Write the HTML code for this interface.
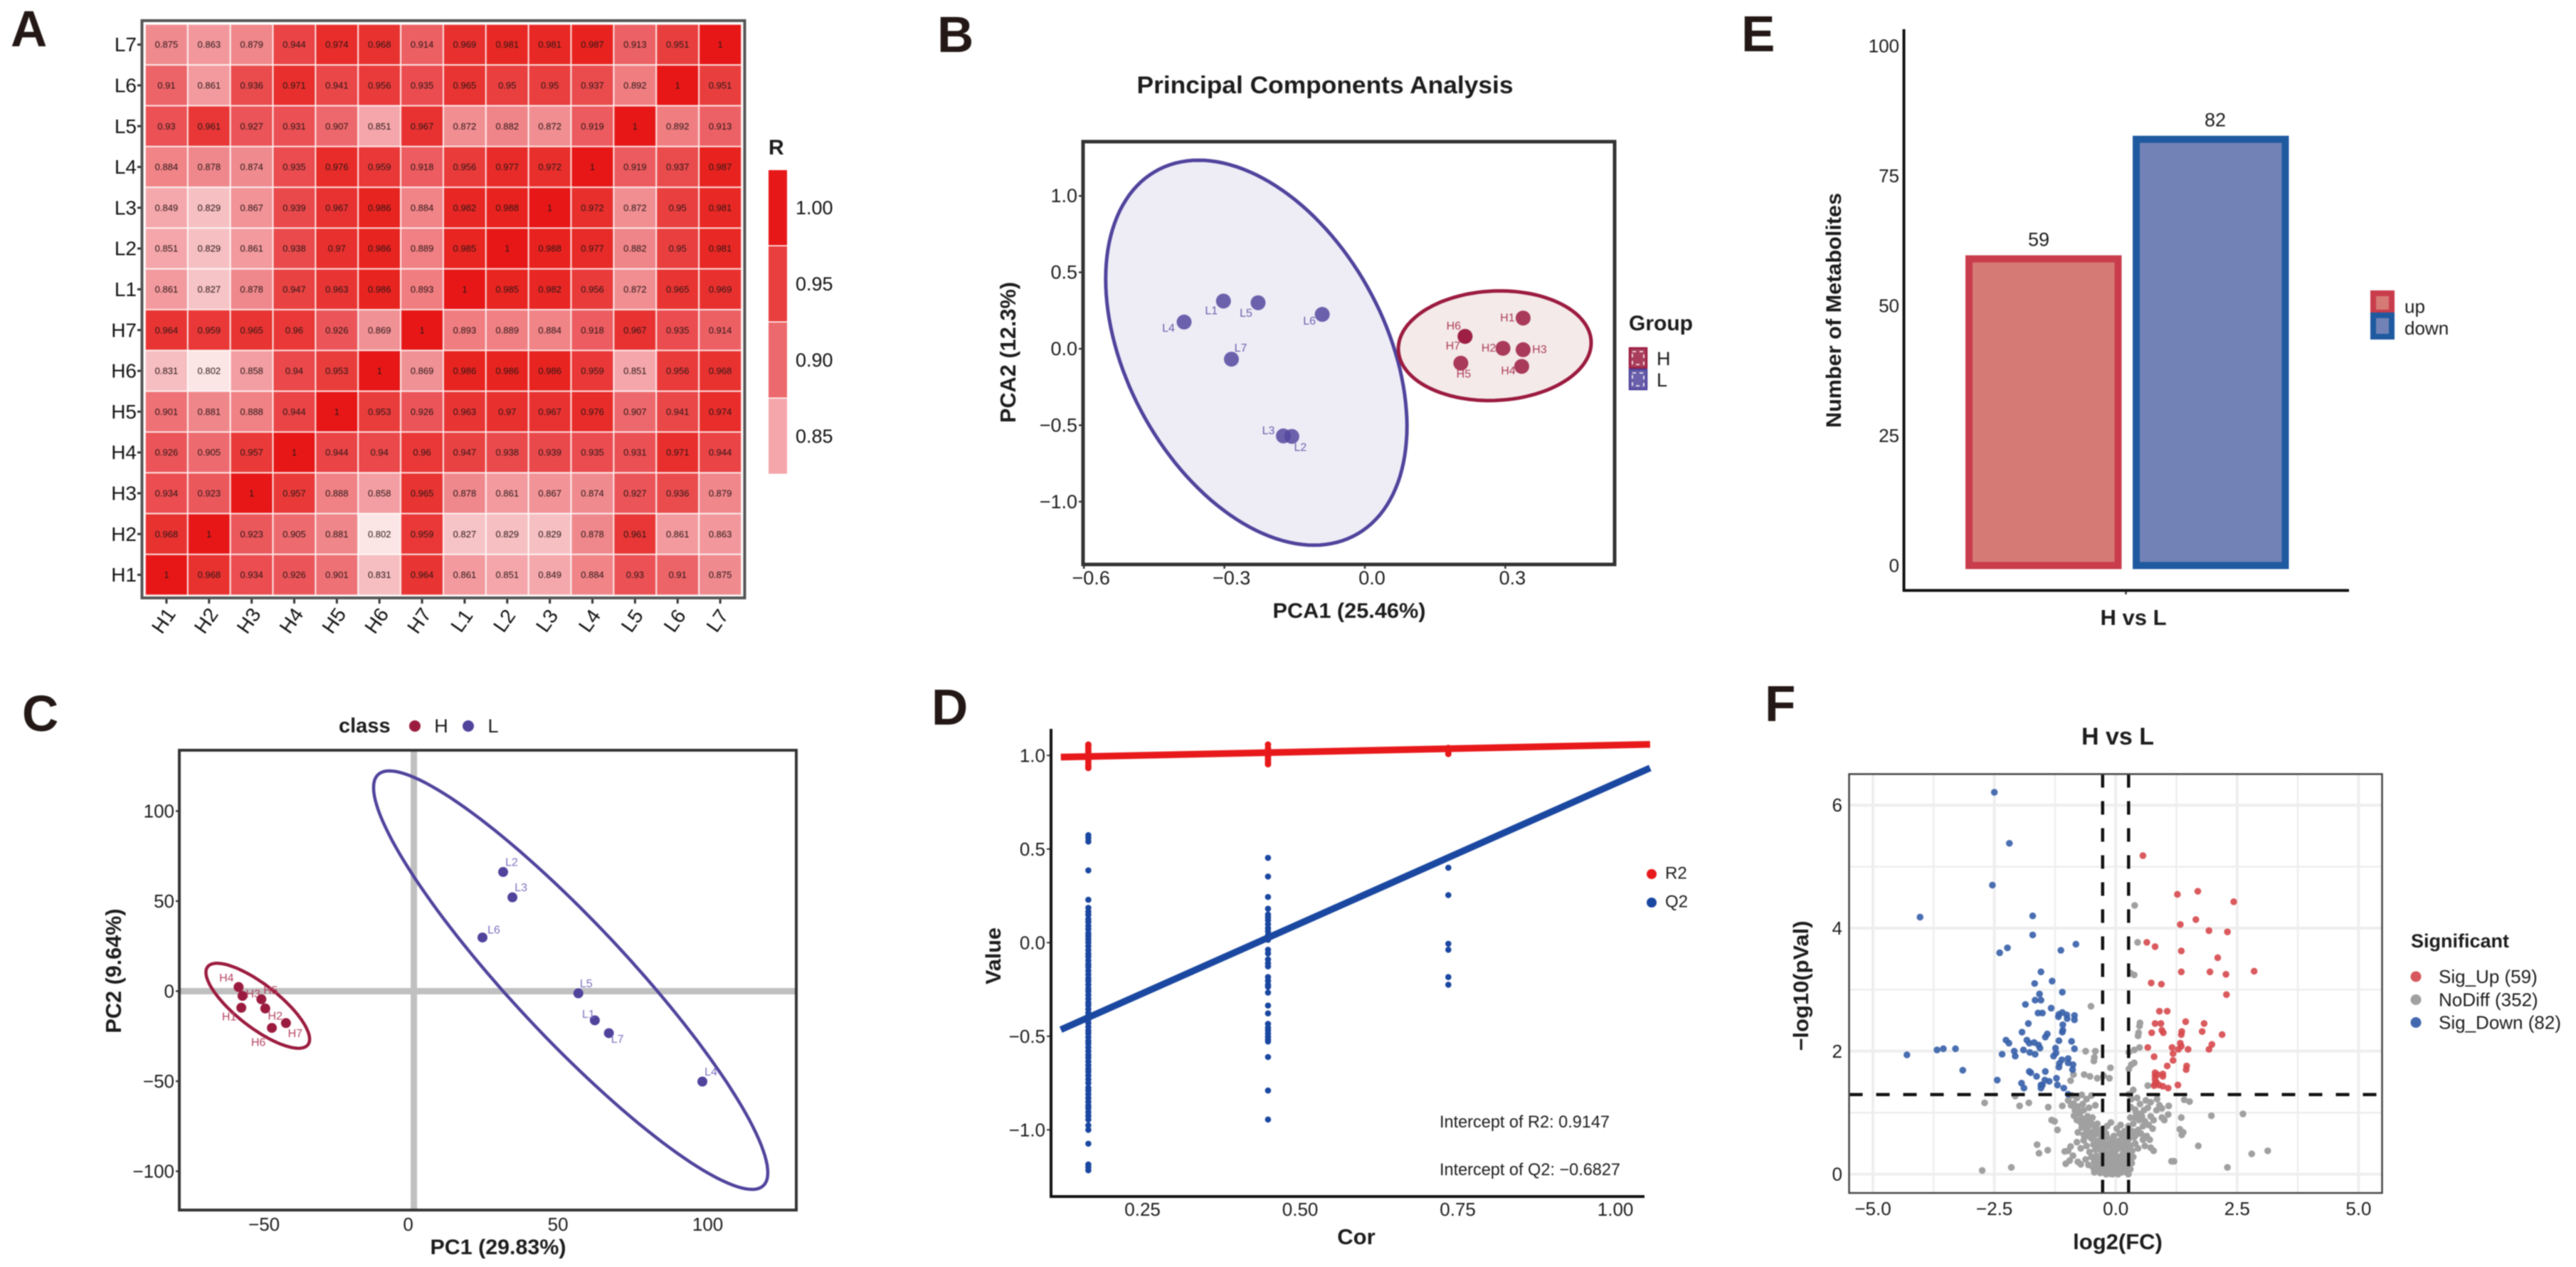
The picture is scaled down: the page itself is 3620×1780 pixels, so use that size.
<!DOCTYPE html>
<html lang="en">
<head>
<meta charset="utf-8">
<title>Metabolomics multi-panel figure</title>
<style>
html,body{margin:0;padding:0;background:#fff;}
#figure{display:block;width:3620px;height:1780px;filter:blur(0.9px);}
#figure text{font-family:"Liberation Sans",sans-serif;fill:#1c1c1c;}
.letter{font-size:71px;font-weight:700;fill:#231815 !important;}
.title{font-weight:700;}
</style>
</head>
<body>
<svg id="figure" xmlns="http://www.w3.org/2000/svg" width="3620" height="1780" viewBox="0 0 3620 1780">
  <rect x="0" y="0" width="3620" height="1780" fill="#fff"/>

  <text class="letter" x="15" y="65">A</text>
  <text class="letter" x="1317" y="73">B</text>
  <text class="letter" x="31" y="1027">C</text>
  <text class="letter" x="1309" y="1018">D</text>
  <text class="letter" x="2447" y="72">E</text>
  <text class="letter" x="2480" y="1013">F</text>

  <g id="panel-a"></g>
  <g id="panel-b"></g>
  <g id="panel-c"></g>
  <g id="panel-d"></g>
  <g id="panel-e"></g>
  <g id="panel-f"></g>

  <text class="title" x="1080" y="217" font-size="30">R</text>

  <text class="title" x="1862" y="131" font-size="34" text-anchor="middle" textLength="529" lengthAdjust="spacingAndGlyphs">Principal Components Analysis</text>
  <text class="title" x="1896" y="868" font-size="30" text-anchor="middle" textLength="215" lengthAdjust="spacingAndGlyphs">PCA1 (25.46%)</text>
  <text class="title" transform="translate(1427,495) rotate(-90)" font-size="31" text-anchor="middle" textLength="198" lengthAdjust="spacingAndGlyphs">PCA2 (12.3%)</text>
  <text class="title" x="2289" y="464" font-size="30">Group</text>

  <text class="title" x="700" y="1762" font-size="30" text-anchor="middle" textLength="191" lengthAdjust="spacingAndGlyphs">PC1 (29.83%)</text>
  <text class="title" transform="translate(170,1364) rotate(-90)" font-size="31" text-anchor="middle" textLength="175" lengthAdjust="spacingAndGlyphs">PC2 (9.64%)</text>
  <text class="title" x="476" y="1029" font-size="29">class</text>

  <text class="title" x="1906" y="1748" font-size="31" text-anchor="middle">Cor</text>
  <text class="title" transform="translate(1406,1343) rotate(-90)" font-size="30" text-anchor="middle" textLength="80" lengthAdjust="spacingAndGlyphs">Value</text>
  <text x="2023" y="1584" font-size="24" textLength="239" lengthAdjust="spacingAndGlyphs">Intercept of R2: 0.9147</text>
  <text x="2023" y="1651" font-size="24" textLength="254" lengthAdjust="spacingAndGlyphs">Intercept of Q2: −0.6827</text>

  <text class="title" transform="translate(2587,436) rotate(-90)" font-size="30" text-anchor="middle" textLength="330" lengthAdjust="spacingAndGlyphs">Number of Metabolites</text>
  <text class="title" x="2998" y="878" font-size="31" text-anchor="middle">H vs L</text>

  <text class="title" x="2976" y="1046" font-size="34" text-anchor="middle">H vs L</text>
  <text class="title" x="2976" y="1755" font-size="31" text-anchor="middle">log2(FC)</text>
  <text class="title" transform="translate(2541,1385) rotate(-90)" font-size="30" text-anchor="middle" textLength="183" lengthAdjust="spacingAndGlyphs">−log10(pVal)</text>
  <text class="title" x="3388" y="1331" font-size="27">Significant</text>
</svg>

<script>
/* ---------- Panel A data ---------- */
const heatRowLabels = ['L7','L6','L5','L4','L3','L2','L1','H7','H6','H5','H4','H3','H2','H1'];
const heatColLabels = ['H1','H2','H3','H4','H5','H6','H7','L1','L2','L3','L4','L5','L6','L7'];
const heatValues = [
 [0.875,0.863,0.879,0.944,0.974,0.968,0.914,0.969,0.981,0.981,0.987,0.913,0.951,1],
 [0.91,0.861,0.936,0.971,0.941,0.956,0.935,0.965,0.95,0.95,0.937,0.892,1,0.951],
 [0.93,0.961,0.927,0.931,0.907,0.851,0.967,0.872,0.882,0.872,0.919,1,0.892,0.913],
 [0.884,0.878,0.874,0.935,0.976,0.959,0.918,0.956,0.977,0.972,1,0.919,0.937,0.987],
 [0.849,0.829,0.867,0.939,0.967,0.986,0.884,0.982,0.988,1,0.972,0.872,0.95,0.981],
 [0.851,0.829,0.861,0.938,0.97,0.986,0.889,0.985,1,0.988,0.977,0.882,0.95,0.981],
 [0.861,0.827,0.878,0.947,0.963,0.986,0.893,1,0.985,0.982,0.956,0.872,0.965,0.969],
 [0.964,0.959,0.965,0.96,0.926,0.869,1,0.893,0.889,0.884,0.918,0.967,0.935,0.914],
 [0.831,0.802,0.858,0.94,0.953,1,0.869,0.986,0.986,0.986,0.959,0.851,0.956,0.968],
 [0.901,0.881,0.888,0.944,1,0.953,0.926,0.963,0.97,0.967,0.976,0.907,0.941,0.974],
 [0.926,0.905,0.957,1,0.944,0.94,0.96,0.947,0.938,0.939,0.935,0.931,0.971,0.944],
 [0.934,0.923,1,0.957,0.888,0.858,0.965,0.878,0.861,0.867,0.874,0.927,0.936,0.879],
 [0.968,1,0.923,0.905,0.881,0.802,0.959,0.827,0.829,0.829,0.878,0.961,0.861,0.863],
 [1,0.968,0.934,0.926,0.901,0.831,0.964,0.861,0.851,0.849,0.884,0.93,0.91,0.875]
];
const heatLegendTicks = ['1.00','0.95','0.90','0.85'];

/* ---------- Panel B data ---------- */
const pcaNames = ['H1','H2','H3','H4','H5','H6','H7','L1','L2','L3','L4','L5','L6','L7'];
const pcaX = [0.338,0.295,0.338,0.335,0.205,0.214,0.214,-0.302,-0.156,-0.174,-0.386,-0.228,-0.091,-0.285];
const pcaY = [0.201,0.003,-0.006,-0.115,-0.094,0.081,0.081,0.312,-0.573,-0.570,0.175,0.301,0.225,-0.068];
const pcaXTicks = [-0.6,-0.3,0.0,0.3];
const pcaYTicks = [1.0,0.5,0.0,-0.5,-1.0];
const pcaEllipseL = [-0.2318,-0.0256,0.3217,1.259,-0.3826];
const pcaEllipseH = [0.2774,0.02,0.2059,0.3585,0.055];

/* ---------- Panel C data ---------- */
const plsNames = ['H1','H2','H3','H4','H5','H6','H7','L1','L2','L3','L4','L5','L6','L7'];
const plsX = [-57.6,-49.6,-57.2,-58.5,-50.9,-47.4,-42.7,60.4,29.8,32.9,96.3,54.9,22.9,65.1];
const plsY = [-9.2,-9.6,-2.6,2.3,-4.5,-20.4,-17.7,-16.2,66.2,52.1,-50.2,-1.2,29.8,-23.3];
const plsXTicks = [-50,0,50,100];
const plsYTicks = [100,50,0,-50,-100];
const plsEllipseL = [52.35,6.13,65.8,116.2,-0.92];
const plsEllipseH = [-52.1,-8.1,17.3,23.6,-0.786];

/* ---------- Panel D data ---------- */
const permCor = [0.164,0.449,0.735];
const permR2Col1 = [0.933,0.945,0.96,0.975,0.99,1.005,1.02,1.035,1.05,1.058];
const permR2Col2 = [0.953,0.965,0.98,0.995,1.01,1.025,1.04,1.058];
const permR2Col3 = [1.008,1.02,1.03,1.04];
const permQ2Col1 = [0.574,0.558,0.54,0.386,0.229,0.186,0.165,0.148,0.125,0.11,0.09,0.072,0.05,0.035,0.018,0.0,-0.02,-0.04,-0.06,-0.075,-0.095,-0.115,-0.13,-0.15,-0.17,-0.19,-0.205,-0.225,-0.245,-0.26,-0.28,-0.3,-0.32,-0.335,-0.355,-0.375,-0.39,-0.41,-0.43,-0.45,-0.47,-0.485,-0.505,-0.525,-0.54,-0.56,-0.58,-0.6,-0.615,-0.635,-0.655,-0.675,-0.69,-0.71,-0.73,-0.75,-0.775,-0.79,-0.81,-0.83,-0.85,-0.87,-0.885,-0.905,-0.925,-0.945,-0.976,-1.0,-1.074,-1.185,-1.2,-1.216];
const permQ2Col2 = [0.453,0.353,0.244,0.181,0.15,0.135,0.119,0.098,0.077,0.06,0.04,0.015,-0.038,-0.058,-0.09,-0.11,-0.127,-0.184,-0.204,-0.225,-0.236,-0.267,-0.336,-0.378,-0.434,-0.455,-0.469,-0.486,-0.503,-0.517,-0.528,-0.611,-0.79,-0.945];
const permQ2Col3 = [0.40,0.254,-0.006,-0.038,-0.184,-0.225];
const permLineCor = [0.1204,1.055];
const permR2Line = [0.991,1.0592];
const permQ2Line = [-0.465,0.933];
const permXTicks = [0.25,0.50,0.75,1.00];
const permYTicks = [1.0,0.5,0.0,-0.5,-1.0];

/* ---------- Panel E data ---------- */
const barCategories = ['up','down'];
const barValues = [59,82];
const barTicks = [0,25,50,75,100];

/* ---------- Panel F data ---------- */
const volcanoXTicks = [-5.0,-2.5,0.0,2.5,5.0];
const volcanoYTicks = [0,2,4,6];
const volcanoLegend = ['Sig_Up (59)','NoDiff (352)','Sig_Down (82)'];
const volcanoCutoffs = [-0.27,0.265,1.295];
const sigDownPoints = [[-2.50,6.21],[-2.19,5.38],[-2.54,4.70],[-4.03,4.18],[-1.71,4.20],[-1.71,3.89],[-0.82,3.74],[-1.13,3.64],[-2.23,3.68],[-2.39,3.60],[-1.54,3.29],[-1.31,3.14],[-1.67,3.10],[-1.10,2.96],[-1.57,2.93],[-1.66,2.83],[-1.54,2.83],[-1.86,2.76],[-1.33,2.70],[-1.60,2.62],[-1.51,2.62],[-1.18,2.56],[-1.10,2.63],[-1.17,2.60],[-1.01,2.59],[-1.00,2.53],[-0.85,2.58],[-0.85,2.51],[-1.09,2.43],[-1.80,2.45],[-1.09,2.34],[-1.10,2.31],[-1.93,2.31],[-1.41,2.28],[-1.45,2.23],[-2.26,2.18],[-2.20,2.13],[-1.83,2.18],[-1.78,2.13],[-1.68,2.14],[-1.59,2.10],[-1.56,2.05],[-1.17,2.17],[-0.91,2.16],[-0.85,2.04],[-1.24,2.05],[-1.23,1.97],[-1.28,1.92],[-2.09,2.00],[-2.07,1.92],[-2.34,1.95],[-1.90,2.02],[-1.77,1.98],[-1.66,1.95],[-3.30,2.04],[-3.55,2.04],[-3.68,2.02],[-4.30,1.94],[-3.15,1.69],[-2.44,1.53],[-1.78,1.67],[-1.75,1.65],[-1.63,1.59],[-1.45,1.67],[-1.11,1.86],[-0.98,1.88],[-1.16,1.80],[-1.17,1.74],[-0.98,1.81],[-0.88,1.78],[-0.89,1.70],[-1.46,1.53],[-1.37,1.51],[-1.22,1.56],[-1.54,1.45],[-1.51,1.45],[-1.54,1.40],[-1.94,1.48],[-1.89,1.40],[-1.20,1.45],[-1.07,1.40],[-0.98,1.30]];
const sigUpPoints = [[0.56,5.18],[1.27,4.55],[1.69,4.60],[2.43,4.43],[1.33,4.06],[1.65,4.14],[1.92,3.96],[2.30,3.94],[0.64,3.77],[0.81,3.70],[1.35,3.63],[2.10,3.52],[1.35,3.29],[1.94,3.29],[2.27,3.25],[2.85,3.30],[0.73,3.11],[0.94,3.09],[2.28,2.92],[0.90,2.65],[1.06,2.65],[0.81,2.45],[0.93,2.45],[0.74,2.30],[1.44,2.48],[1.82,2.45],[1.78,2.32],[1.36,2.32],[1.35,2.27],[0.95,2.34],[0.98,2.30],[2.19,2.27],[1.98,2.11],[1.92,2.03],[0.66,2.06],[1.33,2.13],[1.35,2.08],[1.49,2.03],[1.16,2.06],[1.18,1.96],[1.18,1.85],[0.79,1.91],[1.06,1.76],[1.46,1.76],[1.45,1.70],[0.81,1.65],[0.97,1.63],[0.81,1.60],[0.97,1.59],[0.81,1.47],[0.79,1.44],[0.89,1.45],[0.97,1.43],[1.08,1.40],[1.28,1.45],[0.84,1.49],[0.81,1.54],[0.86,1.62],[1.29,2.03]];
const noDiffPoints = [[0.39,4.37],[0.45,3.77],[0.30,3.27],[0.38,3.24],[-0.51,2.73],[0.50,2.46],[0.49,2.41],[0.47,2.30],[0.46,2.25],[0.49,2.06],[0.38,2.02],[0.27,1.98],[-0.42,2.00],[-0.62,2.00],[-0.44,1.90],[-0.45,1.84],[0.38,1.81],[0.32,1.78],[0.27,1.71],[-0.11,1.73],[-0.65,1.62],[-0.87,1.62],[-0.53,1.59],[-0.38,1.56],[-0.25,1.60],[-0.13,1.56],[-0.93,1.52],[0.66,1.44],[0.36,1.37],[0.27,1.30],
[-2.70,1.16],[-2.07,1.27],[-1.98,1.11],[-1.79,1.16],[-1.39,1.09],[-1.10,1.11],[-0.87,1.15],[-0.90,1.28],[-0.80,1.24],[-0.70,1.29],[-0.60,1.22],[-0.50,1.28],[-0.78,1.10],[-0.68,1.14],[-0.55,1.08],[-0.42,1.12],[0.32,1.22],[0.44,1.24],[0.50,1.14],[0.62,1.20],[0.72,1.17],[0.85,1.22],[1.09,1.11],[1.41,1.21],[1.52,1.18],[0.95,1.07],[0.40,1.05],[0.31,1.09],
[-1.32,0.88],[-1.26,0.86],[-1.20,0.72],[-0.86,0.95],[-0.80,0.88],[-0.74,0.98],[-0.68,0.90],[-0.64,0.82],[-0.58,0.94],[-0.52,0.85],[-0.46,0.80],[-0.70,0.76],[-0.60,0.72],[-0.50,0.68],[-0.42,0.74],[-0.36,0.66],[-0.30,0.62],[-0.24,0.70],[-0.18,0.78],[-0.10,0.84],[0.02,0.74],[0.10,0.80],[0.18,0.70],[0.26,0.78],[0.30,0.92],[0.36,0.82],[0.42,1.00],[0.48,0.88],[0.54,0.94],[0.60,0.86],[0.46,0.72],[0.52,0.66],[0.68,0.80],[0.64,0.62],[0.38,0.60],[0.95,0.92],[1.00,0.88],[1.08,0.97],[1.35,0.92],[1.32,0.73],[1.39,0.68],[1.36,0.64],[1.97,0.95],[2.62,0.98],
[-1.62,0.48],[-1.58,0.34],[-1.40,0.39],[-1.05,0.37],[-0.98,0.38],[-0.93,0.45],[-0.88,0.30],[-0.80,0.52],[-0.72,0.42],[-0.66,0.55],[-0.60,0.46],[-0.54,0.36],[-0.50,0.58],[-0.46,0.48],[-0.42,0.40],[-0.38,0.54],[-0.34,0.46],[-0.30,0.38],[-0.26,0.52],[-0.22,0.44],[-0.18,0.60],[-0.14,0.50],[-0.10,0.42],[-0.06,0.56],[-0.02,0.48],[0.02,0.40],[0.06,0.54],[0.10,0.46],[0.14,0.60],[0.18,0.50],[0.22,0.42],[0.26,0.56],[0.30,0.46],[0.34,0.38],[0.40,0.50],[0.46,0.42],[0.72,0.43],[0.78,0.38],[0.60,0.46],[1.70,0.46],[1.20,0.21],[1.15,0.21],[2.80,0.33],[3.13,0.38],[2.30,0.11],
[-2.75,0.06],[-2.15,0.11],[-1.03,0.17],[-0.95,0.22],[-0.78,0.20],[-0.72,0.16],[-0.62,0.24],[-0.56,0.15],[-0.50,0.28],[-0.46,0.10],[-0.44,0.20],[-0.40,0.30],[-0.38,0.06],[-0.36,0.16],[-0.34,0.26],[-0.32,0.02],[-0.30,0.12],[-0.28,0.22],[-0.26,0.32],[-0.24,0.04],[-0.22,0.14],[-0.20,0.24],[-0.18,0.34],[-0.16,0.02],[-0.14,0.10],[-0.12,0.20],[-0.10,0.30],[-0.08,0.04],[-0.06,0.13],[-0.04,0.22],[-0.02,0.32],[0.00,0.02],[0.02,0.10],[0.04,0.18],[0.06,0.28],[0.08,0.05],[0.10,0.14],[0.12,0.22],[0.14,0.32],[0.16,0.06],[0.18,0.16],[0.20,0.26],[0.22,0.03],[0.24,0.12],[0.26,0.22],[0.28,0.32],[0.30,0.08],[0.33,0.18],[0.36,0.28],[-0.44,0.03],[-0.28,0.06],[-0.20,0.00],[-0.13,0.01],[-0.07,0.00],[-0.02,0.07],[0.05,0.00],[0.12,0.03],[0.20,0.08],[0.26,0.00],[-0.16,0.08],[-0.09,0.09],[-0.03,0.16],[0.07,0.09],[0.13,0.11],[-0.33,0.10],[-0.24,0.18],[-0.11,0.15],[0.03,0.25],[-0.17,0.27],[0.15,0.40],[-0.05,0.36],[-0.23,0.36],[0.25,0.36],
[-0.98,1.20],[-0.92,1.12],[-0.84,1.04],[-0.76,1.02],[-0.66,1.04],[-0.72,0.84],[-0.62,0.88],[-0.56,0.78],[-0.48,0.92],[-0.44,0.64],[-0.38,0.82],[-0.32,0.72],[-0.28,0.54],[-0.78,0.68],[-0.66,0.64],[-0.56,0.62],[-0.20,0.66],[0.34,0.70],[0.42,0.64],[0.40,0.92],[0.48,0.98],[0.56,0.78],[0.58,1.04],[0.66,1.08],[0.72,0.94],[0.78,0.88],[0.84,1.04],[0.90,1.12],[0.76,0.74],[0.30,0.60],[0.24,0.64],[0.20,0.58],[-0.04,0.62],[0.08,0.66],[0.56,0.56],[0.70,0.56]];

/* ---------- helpers ---------- */
const NS = 'http://www.w3.org/2000/svg';
function shape(parent, tag, attrs){
  const e = document.createElementNS(NS, tag);
  for (const k in attrs) e.setAttribute(k, attrs[k]);
  parent.appendChild(e);
  return e;
}
function named(e, name, interactive){
  
  
  return e;
}
function label(parent, str, x, y, size, anchor, fill, name, extra){
  const attrs = Object.assign({x:x, y:y, 'font-size':size, 'text-anchor':anchor || 'middle', 'dominant-baseline':'central'}, extra || {});
  const t = shape(parent, 'text', attrs);
  if (fill) t.style.fill = fill;
  t.textContent = str;
  named(t, name, false);
  return t;
}
function fmtSigned(v, d){
  const s = Math.abs(v).toFixed(d);
  return v < 0 ? '\u2212' + s : s;
}
function ellipsePath(p, sx, sy){
  const [cx, cy, ax, ay, rho] = p;
  let d = '';
  for (let i = 0; i < 144; i++){
    const t = i / 144 * Math.PI * 2;
    const dx = ax * Math.cos(t);
    const dy = ay * (rho * Math.cos(t) + Math.sqrt(1 - rho * rho) * Math.sin(t));
    d += (i ? 'L' : 'M') + sx(cx + dx).toFixed(1) + ' ' + sy(cy + dy).toFixed(1);
  }
  return d + 'Z';
}

/* ---------- Panel A ---------- */
(function(){
  const g = document.getElementById('panel-a');
  const left = 204, top = 34, cw = 59.86, ch = 57.3;
  const hx = i => left + i * cw;
  const hy = i => top + i * ch;
  const stops = [[0.80,[252,232,232]],[0.829,[246,192,195]],[0.851,[244,166,170]],[0.875,[239,138,142]],[0.893,[240,125,128]],[0.91,[236,100,104]],[0.93,[235,81,85]],[0.95,[233,63,63]],[0.97,[232,48,46]],[0.986,[232,36,32]],[1.0,[231,23,23]]];
  function heat(v){
    for (let i = 1; i < stops.length; i++){
      if (v <= stops[i][0]){
        const a = stops[i-1], b = stops[i], t = (v - a[0]) / (b[0] - a[0]);
        return 'rgb(' + a[1].map((c, k) => Math.round(c + (b[1][k] - c) * t)).join(',') + ')';
      }
    }
    return 'rgb(231,23,23)';
  }
  heatValues.forEach((row, r) => {
    row.forEach((v, c) => {
      const cell = shape(g, 'rect', {x:hx(c), y:hy(r), width:cw, height:ch, fill:heat(v), stroke:'#fff', 'stroke-opacity':0.75, 'stroke-width':2});
      
      
      label(g, String(v), hx(c) + cw / 2, hy(r) + ch / 2, 13, 'middle', '#2a1515', 'heatmap-value-' + heatRowLabels[r] + '-' + heatColLabels[c]);
    });
  });
  const frame = shape(g, 'rect', {x:199.5, y:29, width:847, height:811, fill:'none', stroke:'#555', 'stroke-width':4});
  
  
  heatRowLabels.forEach((n, r) => {
    const cy = hy(r) + ch / 2;
    const tick = shape(g, 'line', {x1:193, x2:198, y1:cy, y2:cy, stroke:'#333', 'stroke-width':3});
    
    
    label(g, n, 192, cy, 28, 'end', '#111', 'heatmap-row-label-' + n);
  });
  heatColLabels.forEach((n, c) => {
    const cx = hx(c) + cw / 2;
    const tick = shape(g, 'line', {x1:cx, x2:cx, y1:842, y2:848, stroke:'#333', 'stroke-width':3});
    
    
    label(g, n, 0, 0, 28, 'middle', '#111', 'heatmap-col-label-' + n, {transform:'translate(' + (cx - 4) + ',872) rotate(-55)'});
  });
  const bandColors = ['#e71818','#e93f3f','#ec6a6d','#f4a6aa'];
  const bandTop = 239, bandH = 107;
  bandColors.forEach((col, i) => {
    const b = shape(g, 'rect', {x:1080, y:bandTop + i * bandH, width:26, height:bandH - 1.5, fill:col});
    
    
    label(g, heatLegendTicks[i], 1118, bandTop + i * bandH + 53, 27, 'start', '#111', 'heatmap-legend-label-' + heatLegendTicks[i]);
  });
})();

/* ---------- Panel B ---------- */
(function(){
  const g = document.getElementById('panel-b');
  const sx = v => 1918 + v * 658;
  const sy = v => 490 - v * 214.8;
  const offsets = {H1:[-22,0],H2:[-20,0],H3:[23,0],H4:[-19,7],H5:[4,16],H6:[-16,-14],H7:[-17,14],L1:[-17,14],L2:[12,16],L3:[-21,-7],L4:[-22,9],L5:[-17,15],L6:[-18,10],L7:[13,-15]};
  const eL = shape(g, 'path', {d:ellipsePath(pcaEllipseL, sx, sy), fill:'#eeedf6', stroke:'#4f439c', 'stroke-width':5});
  
  
  const eH = shape(g, 'path', {d:ellipsePath(pcaEllipseH, sx, sy), fill:'#f4eaea', stroke:'#9b1b3f', 'stroke-width':5});
  
  
  const frame = shape(g, 'rect', {x:1522, y:199, width:747, height:594, fill:'none', stroke:'#333', 'stroke-width':5});
  
  
  pcaNames.forEach((n, i) => {
    const isH = n[0] === 'H';
    const col = isH ? '#9b1b3f' : '#54469e';
    const dot = shape(g, 'circle', {cx:sx(pcaX[i]), cy:sy(pcaY[i]), r:10.5, fill:col, 'fill-opacity':0.85});
    
    
    label(g, n, sx(pcaX[i]) + offsets[n][0], sy(pcaY[i]) + offsets[n][1], 16, 'middle', isH ? '#ab3a52' : '#6a5cab', 'pca-point-label-' + n);
  });
  pcaYTicks.forEach(v => {
    const t = shape(g, 'line', {x1:1516, x2:1520, y1:sy(v), y2:sy(v), stroke:'#333', 'stroke-width':2.5});
    
    
    label(g, fmtSigned(v, 1), 1514, sy(v), 27, 'end', null, 'pca-y-tick-label');
  });
  pcaXTicks.forEach(v => {
    const t = shape(g, 'line', {x1:sx(v), x2:sx(v), y1:795, y2:799, stroke:'#333', 'stroke-width':2.5});
    
    
    label(g, fmtSigned(v, 1), sx(v) + 10, 812, 27, 'middle', null, 'pca-x-tick-label');
  });
  [['H', '#9b1b3f', 488], ['L', '#4f439c', 518]].forEach(k => {
    const box = shape(g, 'rect', {x:2290, y:k[2] + 1, width:24, height:28, fill:k[1], 'fill-opacity':0.85, stroke:k[1], 'stroke-width':2.5});
    
    
    const dash = shape(g, 'rect', {x:2294, y:k[2] + 6, width:16, height:18, fill:'none', stroke:'#fff', 'stroke-width':1.6, 'stroke-dasharray':'5 5'});
    
    
    label(g, k[0], 2328, k[2] + 16, 27, 'start', null, 'pca-legend-label-' + k[0]);
  });
})();

/* ---------- Panel C ---------- */
(function(){
  const g = document.getElementById('panel-c');
  const sx = v => 581.6 + v * 4.21;
  const sy = v => 1392.5 - v * 2.53;
  const offsets = {H1:[-17,13],H2:[14,11],H3:[15,-2],H4:[-17,-12],H5:[13,-12],H6:[-19,21],H7:[13,15],L1:[-9,-8],L2:[12,-13],L3:[12,-13],L4:[12,-13],L5:[11,-13],L6:[16,-10],L7:[12,9]};
  const hBand = shape(g, 'line', {x1:253, x2:1117, y1:sy(0), y2:sy(0), stroke:'#c0c0c0', 'stroke-width':9});
  
  
  const vBand = shape(g, 'line', {x1:sx(0), x2:sx(0), y1:1055, y2:1698, stroke:'#c0c0c0', 'stroke-width':9});
  
  
  const eL = shape(g, 'path', {d:ellipsePath(plsEllipseL, sx, sy), fill:'none', stroke:'#4f439c', 'stroke-width':4.5});
  
  
  const eH = shape(g, 'path', {d:ellipsePath(plsEllipseH, sx, sy), fill:'none', stroke:'#9b1b3f', 'stroke-width':4.5});
  
  
  const frame = shape(g, 'rect', {x:252, y:1054, width:867, height:646, fill:'none', stroke:'#333', 'stroke-width':4});
  
  
  plsNames.forEach((n, i) => {
    const isH = n[0] === 'H';
    const dot = shape(g, 'circle', {cx:sx(plsX[i]), cy:sy(plsY[i]), r:7, fill:isH ? '#9b1b3f' : '#4f439c'});
    
    
    label(g, n, sx(plsX[i]) + offsets[n][0], sy(plsY[i]) + offsets[n][1], 16, 'middle', isH ? '#b5405e' : '#7a6fc0', 'pls-point-label-' + n);
  });
  plsYTicks.forEach(v => {
    const t = shape(g, 'line', {x1:247, x2:251, y1:sy(v), y2:sy(v), stroke:'#333', 'stroke-width':2.5});
    
    
    label(g, fmtSigned(v, 0), 245, sy(v), 26, 'end', null, 'pls-y-tick-label');
  });
  plsXTicks.forEach(v => {
    label(g, fmtSigned(v, 0), sx(v) + (v < 0 ? 0 : -8), 1720, 26, 'middle', null, 'pls-x-tick-label');
  });
  [['H', '#9b1b3f', 583, 620], ['L', '#4f439c', 658, 693]].forEach(k => {
    const dot = shape(g, 'circle', {cx:k[2], cy:1020, r:8, fill:k[1]});
    
    
    label(g, k[0], k[3], 1020, 27, 'middle', null, 'pls-legend-label-' + k[0]);
  });
})();

/* ---------- Panel D ---------- */
(function(){
  const g = document.getElementById('panel-d');
  const sx = v => 1605.6 + (v - 0.25) * 886;
  const sy = v => 1324.3 - v * 263;
  const axisY = shape(g, 'line', {x1:1477, x2:1477, y1:1024, y2:1683, stroke:'#111', 'stroke-width':4});
  
  
  const axisX = shape(g, 'line', {x1:1475, x2:2311, y1:1681, y2:1681, stroke:'#111', 'stroke-width':4});
  
  
  [permQ2Col1, permQ2Col2, permQ2Col3].forEach((vals, c) => {
    vals.forEach(v => {
      const d = shape(g, 'circle', {cx:sx(permCor[c]), cy:sy(v), r:4.3, fill:'#1a47a0'});
      
      
    });
  });
  [permR2Col1, permR2Col2, permR2Col3].forEach((vals, c) => {
    vals.forEach(v => {
      const d = shape(g, 'circle', {cx:sx(permCor[c]), cy:sy(v), r:4.5, fill:'#e8191b'});
      
      
    });
  });
  const lineR = shape(g, 'line', {x1:sx(permLineCor[0]), x2:sx(permLineCor[1]), y1:sy(permR2Line[0]), y2:sy(permR2Line[1]), stroke:'#e8191b', 'stroke-width':9.5});
  
  
  const lineQ = shape(g, 'line', {x1:sx(permLineCor[0]), x2:sx(permLineCor[1]), y1:sy(permQ2Line[0]), y2:sy(permQ2Line[1]), stroke:'#1a47a0', 'stroke-width':9.5});
  
  
  permYTicks.forEach(v => {
    const t = shape(g, 'line', {x1:1471, x2:1475, y1:sy(v), y2:sy(v), stroke:'#333', 'stroke-width':2});
    
    
    label(g, fmtSigned(v, 1), 1469, sy(v), 26, 'end', null, 'permutation-y-tick-label');
  });
  permXTicks.forEach(v => {
    label(g, v.toFixed(2), sx(v), 1699, 26, 'middle', null, 'permutation-x-tick-label');
  });
  [['R2', '#e8191b', 1228], ['Q2', '#1a47a0', 1268]].forEach(k => {
    const d = shape(g, 'circle', {cx:2321, cy:k[2], r:7, fill:k[1]});
    
    
    label(g, k[0], 2340, k[2] - 1, 24, 'start', null, 'permutation-legend-label-' + k[0]);
  });
})();

/* ---------- Panel E ---------- */
(function(){
  const g = document.getElementById('panel-e');
  const sy = v => 794.5 - v * 7.302;
  const barX = [2767, 3002];
  const barW = 209.5;
  const fills = ['#d57a75', '#7282b6'];
  const strokes = ['#c93c4c', '#1f5aa0'];
  const labelX = [2865, 3113];
  barValues.forEach((v, i) => {
    const b = shape(g, 'rect', {x:barX[i], y:sy(v), width:barW, height:sy(0) - sy(v), fill:fills[i], stroke:strokes[i], 'stroke-width':10});
    
    
    label(g, String(v), labelX[i], sy(v) - 27, 27, 'middle', null, 'bar-value-' + barCategories[i]);
  });
  const axisY = shape(g, 'line', {x1:2675.5, x2:2675.5, y1:41, y2:831, stroke:'#111', 'stroke-width':4});
  
  
  const axisX = shape(g, 'line', {x1:2674, x2:3301, y1:829.5, y2:829.5, stroke:'#111', 'stroke-width':4});
  
  
  const xt = shape(g, 'line', {x1:2987.5, x2:2987.5, y1:831, y2:835, stroke:'#333', 'stroke-width':2.5});
  
  
  barTicks.forEach(v => {
    label(g, String(v), 2669, sy(v), 26, 'end', null, 'bars-y-tick-label');
  });
  [0, 1].forEach(i => {
    const top = i ? 443 : 412;
    const k = shape(g, 'rect', {x:3335, y:top, width:26, height:i ? 30 : 27, fill:fills[i], stroke:strokes[i], 'stroke-width':8});
    
    
    label(g, barCategories[i], 3379, i ? 461 : 430.5, 26, 'start', null, 'bars-legend-label-' + barCategories[i]);
  });
})();

/* ---------- Panel F ---------- */
(function(){
  const g = document.getElementById('panel-f');
  const sx = v => 2973.2 + v * 68.24;
  const sy = v => 1649.6 - v * 86.4;
  const L = 2598.5, R = 3347.5, T = 1087.5, B = 1676;
  [-5,-3.75,-2.5,-1.25,0,1.25,2.5,3.75,5].forEach((v, i) => {
    const ln = shape(g, 'line', {x1:sx(v), x2:sx(v), y1:T, y2:B, stroke:'#eeeeee', 'stroke-width':i % 2 ? 2.5 : 4});
    
    
  });
  [0,1,2,3,4,5,6].forEach((v, i) => {
    const ln = shape(g, 'line', {x1:L, x2:R, y1:sy(v), y2:sy(v), stroke:'#eeeeee', 'stroke-width':i % 2 ? 2.5 : 4});
    
    
  });
  noDiffPoints.forEach(p => {
    const d = shape(g, 'circle', {cx:sx(p[0]), cy:sy(p[1]), r:4.8, fill:'#a0a0a0'});
    
    
  });
  sigDownPoints.forEach(p => {
    const d = shape(g, 'circle', {cx:sx(p[0]), cy:sy(p[1]), r:4.8, fill:'#3a62aa', 'fill-opacity':0.92});
    
    
  });
  sigUpPoints.forEach(p => {
    const d = shape(g, 'circle', {cx:sx(p[0]), cy:sy(p[1]), r:4.8, fill:'#d6484d', 'fill-opacity':0.9});
    
    
  });
  const dash = {stroke:'#111', 'stroke-width':4.5, 'stroke-dasharray':'19 19'};
  const c1 = shape(g, 'line', Object.assign({x1:sx(volcanoCutoffs[0]), x2:sx(volcanoCutoffs[0]), y1:T, y2:B}, dash));
  
  
  const c2 = shape(g, 'line', Object.assign({x1:sx(volcanoCutoffs[1]), x2:sx(volcanoCutoffs[1]), y1:T, y2:B}, dash));
  
  
  const c3 = shape(g, 'line', Object.assign({x1:L, x2:R - 8, y1:sy(volcanoCutoffs[2]), y2:sy(volcanoCutoffs[2])}, dash));
  
  
  const frame = shape(g, 'rect', {x:L, y:T, width:R - L, height:B - T, fill:'none', stroke:'#444', 'stroke-width':2.5});
  
  
  volcanoYTicks.forEach(v => {
    label(g, String(v), 2589, sy(v), 26, 'end', null, 'volcano-y-tick-label');
  });
  volcanoXTicks.forEach(v => {
    label(g, fmtSigned(v, 1), sx(v), 1698, 26, 'middle', null, 'volcano-x-tick-label');
  });
  const legendColors = ['#d6585c', '#a0a0a0', '#4268ae'];
  const legendY = [1372, 1404.5, 1436.5];
  volcanoLegend.forEach((s, i) => {
    const d = shape(g, 'circle', {cx:3395, cy:legendY[i], r:7.5, fill:legendColors[i]});
    
    
    label(g, s, 3427, legendY[i], 26, 'start', null, 'volcano-legend-label');
  });
})();
</script>
</body>
</html>
